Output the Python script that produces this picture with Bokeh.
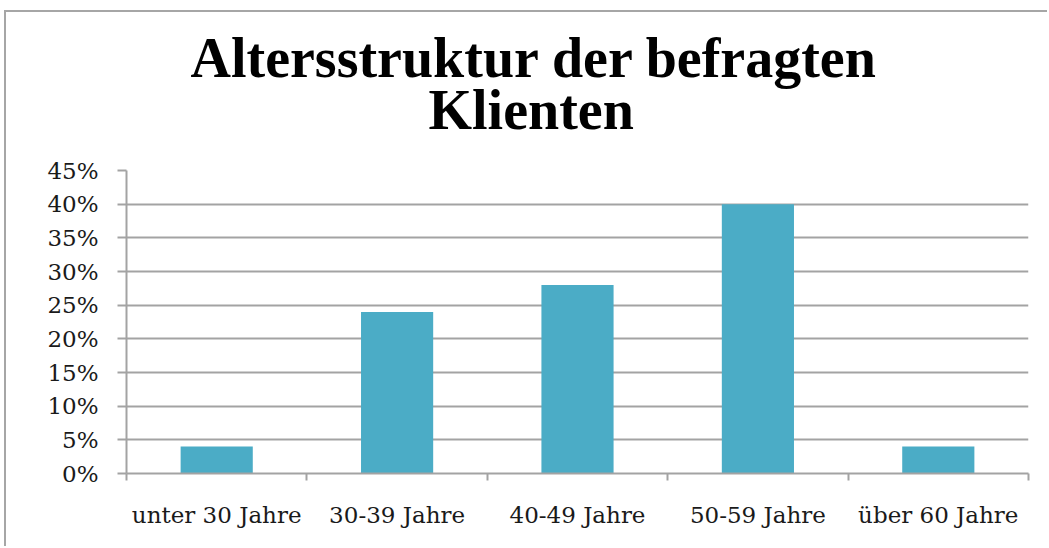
from bokeh.plotting import figure
from bokeh.models import FixedTicker, Range1d, ColumnDataSource, Title
from bokeh.embed import file_html
from bokeh.resources import INLINE

categories = ["unter 30 Jahre", "30-39 Jahre", "40-49 Jahre", "50-59 Jahre", "über 60 Jahre"]
shares = [4, 24, 28, 40, 4]  # percent
y_ticks = [0, 5, 10, 15, 20, 25, 30, 35, 40, 45]
y_tick_labels = ["0%", "5%", "10%", "15%", "20%", "25%", "30%", "35%", "40%", "45%"]
title_lines = ["Altersstruktur der befragten", "Klienten"]

n = len(categories)
centers = [i + 0.5 for i in range(n)]
boundaries = list(range(n + 1))

GRAY = "#a3a3a3"
BAR = "#4bacc6"
TXT = "#1a1a1a"
LABEL_FONT = "DejaVu Serif"

p = figure(width=1043, height=536, output_backend="svg", toolbar_location=None, title=None,
           x_range=Range1d(0, n), y_range=Range1d(y_ticks[0], y_ticks[-1]),
           min_border_left=120, min_border_right=21, min_border_top=158, min_border_bottom=75)
p.styles = {"border-left": "2px solid #a6a6a6", "border-top": "2px solid #a6a6a6",
            "margin-left": "4px", "margin-top": "10px"}

src = ColumnDataSource(dict(x=centers, top=shares, cat=categories))
p.vbar(x="x", top="top", width=0.4, source=src, fill_color=BAR, line_color=None)

p.outline_line_color = None
p.background_fill_color = "white"
p.border_fill_color = "white"

# grid
p.xgrid.visible = False
p.ygrid.ticker = FixedTicker(ticks=y_ticks)
p.ygrid.grid_line_color = GRAY
p.ygrid.grid_line_width = 2

# y axis
ya = p.yaxis[0]
ya.ticker = FixedTicker(ticks=y_ticks, minor_ticks=[])
ya.major_label_overrides = {t: l for t, l in zip(y_ticks, y_tick_labels)}
ya.axis_line_color = GRAY
ya.axis_line_width = 2
ya.major_tick_line_color = GRAY
ya.major_tick_line_width = 2
ya.major_tick_out = 9
ya.major_tick_in = 0
ya.minor_tick_line_color = None
ya.major_label_standoff = 19
ya.major_label_text_font = LABEL_FONT
ya.major_label_text_font_size = "23px"
ya.major_label_text_color = TXT

# x axis
xa = p.xaxis[0]
xa.ticker = FixedTicker(ticks=centers, minor_ticks=boundaries)
xa.major_label_overrides = {c: cat for c, cat in zip(centers, categories)}
xa.axis_line_color = GRAY
xa.axis_line_width = 2
xa.major_tick_line_color = None
xa.major_tick_out = 0
xa.major_tick_in = 0
xa.minor_tick_line_color = GRAY
xa.minor_tick_line_width = 2
xa.minor_tick_out = 7
xa.minor_tick_in = 0
xa.major_label_standoff = 21
xa.major_label_text_font = LABEL_FONT
xa.major_label_text_font_size = "23px"
xa.major_label_text_color = TXT

# title (two lines, nearest line added first)
offsets = [64, 302]
standoffs = [-83, 59]
for line, off, so in reversed(list(zip(title_lines, offsets, standoffs))):
    p.add_layout(Title(text=line, align="left", offset=off, standoff=so,
                       text_font="Liberation Serif", text_font_style="bold",
                       text_font_size="56px", text_color="#000000"), "above")

open("out.html", "w").write(file_html(p, INLINE))
